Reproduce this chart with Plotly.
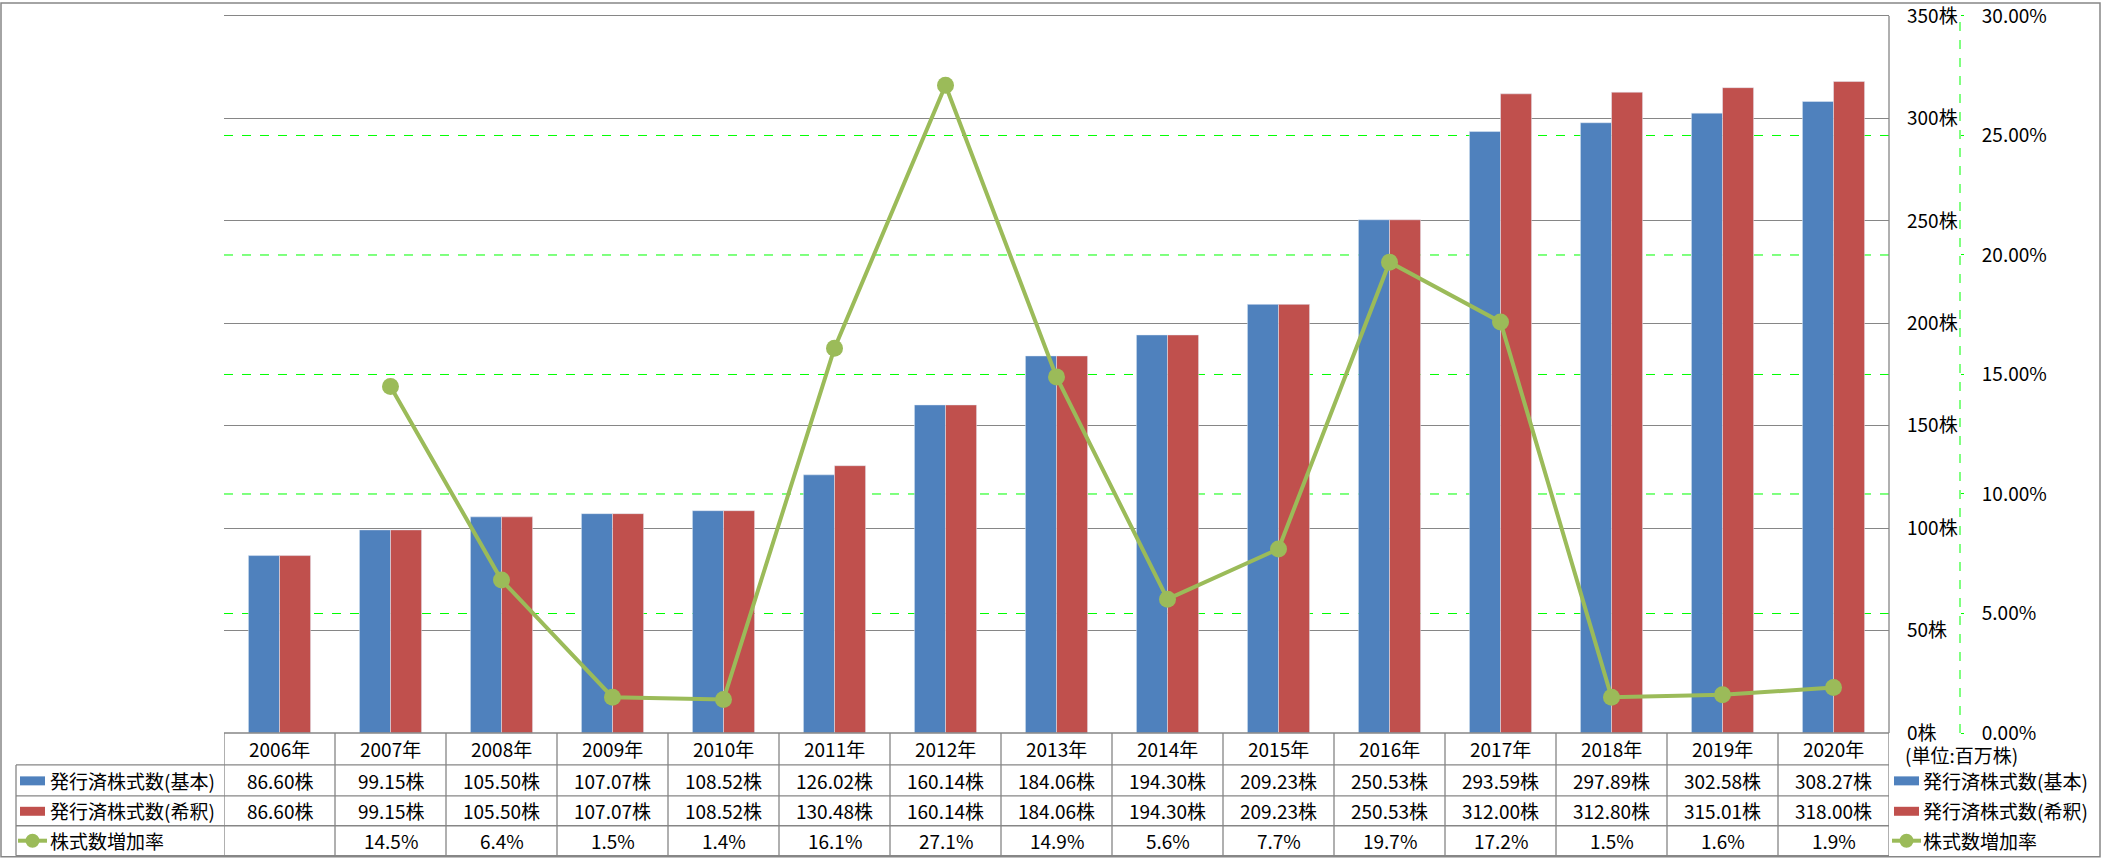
import plotly.graph_objects as go

years = ["2006年", "2007年", "2008年", "2009年", "2010年", "2011年", "2012年", "2013年",
         "2014年", "2015年", "2016年", "2017年", "2018年", "2019年", "2020年"]
basic = [86.60, 99.15, 105.50, 107.07, 108.52, 126.02, 160.14, 184.06, 194.30, 209.23,
         250.53, 293.59, 297.89, 302.58, 308.27]
diluted = [86.60, 99.15, 105.50, 107.07, 108.52, 130.48, 160.14, 184.06, 194.30, 209.23,
           250.53, 312.00, 312.80, 315.01, 318.00]
growth = [None, 14.5, 6.4, 1.5, 1.4, 16.1, 27.1, 14.9, 5.6, 7.7, 19.7, 17.2, 1.5, 1.6, 1.9]
share_ticks = [0, 50, 100, 150, 200, 250, 300, 350]
pct_ticks = [0, 5, 10, 15, 20, 25, 30]

name_basic = "発行済株式数(基本)"
name_dil = "発行済株式数(希釈)"
name_growth = "株式数増加率"
unit_label = "(単位:百万株)"

BLUE = "#4F81BD"
RED = "#C0504D"
GREEN = "#9BBB59"
LIME = "#00FF00"
GRAY = "#868686"
FONT = "Noto Sans CJK JP"
FS = 19

W, H = 2101, 858
L, R, T, B = 224, 1, 8, 125
PW = W - L - R
PH = H - T - B
PLOT_RIGHT = 1889
AX2_X = 1960
TOP_PX = 14          # pixel row of the 350 / 30% gridline
BOTTOM_PX = H - B    # 733
EXT = (BOTTOM_PX - T) / (BOTTOM_PX - TOP_PX)
Y1_MAX = share_ticks[-1] * EXT
Y2_MAX = pct_ticks[-1] * EXT


def xp(px):
    return (px - L) / PW


def yp(py):
    return (H - B - py) / PH


fig = go.Figure()
fig.add_trace(go.Bar(x=years, y=basic, name=name_basic, marker_color=BLUE, showlegend=False))
fig.add_trace(go.Bar(x=years, y=diluted, name=name_dil, marker_color=RED, showlegend=False))
fig.add_trace(go.Scatter(x=years, y=growth, name=name_growth, yaxis="y2", mode="lines+markers",
                         line=dict(color=GREEN, width=4), marker=dict(color=GREEN, size=17),
                         showlegend=False))

shapes = []
annotations = []

for v in pct_ticks[1:-1]:
    shapes.append(dict(type="line", xref="paper", yref="y2", x0=0, x1=xp(PLOT_RIGHT), y0=v, y1=v,
                       line=dict(color=LIME, width=1, dash="dash"), layer="below"))
shapes.append(dict(type="line", xref="paper", yref="y2", x0=xp(AX2_X), x1=xp(AX2_X),
                   y0=pct_ticks[0], y1=pct_ticks[-1],
                   line=dict(color=LIME, width=1, dash="dash")))

line_style = dict(color=GRAY, width=1.3)
shapes.append(dict(type="line", xref="paper", yref="y", x0=xp(PLOT_RIGHT), x1=xp(PLOT_RIGHT),
                   y0=share_ticks[0], y1=share_ticks[-1], line=line_style))

rows = [733, 765, 796, 826, 856]
n = len(years)
shapes.append(dict(type="line", xref="x", yref="paper", x0=-0.5, x1=n - 0.5, y0=yp(rows[0]), y1=yp(rows[0]),
                   line=line_style))
for ry in rows[1:]:
    shapes.append(dict(type="line", xref="paper", yref="paper", x0=xp(16), x1=xp(PLOT_RIGHT),
                       y0=yp(ry), y1=yp(ry), line=line_style))
for i in range(n + 1):
    shapes.append(dict(type="line", xref="x", yref="paper", x0=i - 0.5, x1=i - 0.5,
                       y0=yp(rows[0]), y1=yp(rows[-1]), line=line_style))
shapes.append(dict(type="line", xref="paper", yref="paper", x0=xp(16), x1=xp(16),
                   y0=yp(rows[1]), y1=yp(rows[-1]), line=line_style))
shapes.append(dict(type="rect", xref="paper", yref="paper", x0=xp(1), x1=xp(2100), y0=yp(857), y1=yp(1),
                   line=dict(color=GRAY, width=1.5)))

centers = [(a + b) / 2 for a, b in zip(rows[:-1], rows[1:])]
txt_font = dict(family=FONT, size=FS, color="#000000")


def cell(x, y, text):
    annotations.append(dict(x=x, xref="x", y=yp(y), yref="paper", text=text, showarrow=False,
                            xanchor="center", yanchor="middle", font=txt_font))


for i, yr in enumerate(years):
    cell(yr, centers[0], yr)
    cell(yr, centers[1], f"{basic[i]:.2f}株")
    cell(yr, centers[2], f"{diluted[i]:.2f}株")
    if growth[i] is not None:
        cell(yr, centers[3], f"{growth[i]:.1f}%")


def legend_block(x_sym, x_txt, ys):
    for col, yc in ((BLUE, ys[0]), (RED, ys[1])):
        shapes.append(dict(type="rect", xref="paper", yref="paper", x0=xp(x_sym), x1=xp(x_sym + 25),
                           y0=yp(yc + 5), y1=yp(yc - 4), fillcolor=col, line=dict(width=0)))
    yc = ys[2]
    shapes.append(dict(type="line", xref="paper", yref="paper", x0=xp(x_sym - 2), x1=xp(x_sym + 27),
                       y0=yp(yc), y1=yp(yc), line=dict(color=GREEN, width=4)))
    cx = x_sym + 12.5
    shapes.append(dict(type="circle", xref="paper", yref="paper", x0=xp(cx - 7), x1=xp(cx + 7),
                       y0=yp(yc + 7), y1=yp(yc - 7), fillcolor=GREEN, line=dict(width=0)))
    for t, yc in zip([name_basic, name_dil, name_growth], ys):
        annotations.append(dict(x=xp(x_txt), xref="paper", y=yp(yc), yref="paper", text=t,
                                showarrow=False, xanchor="left", yanchor="middle", font=txt_font))


legend_block(20, 48, centers[1:])
legend_block(1894, 1921, centers[1:])
annotations.append(dict(x=xp(1903), xref="paper", y=yp(755), yref="paper", text=unit_label,
                        showarrow=False, xanchor="left", yanchor="middle", font=txt_font))

fig.update_layout(
    width=W, height=H,
    margin=dict(l=L, r=R, t=T, b=B),
    paper_bgcolor="white", plot_bgcolor="white",
    barmode="group", bargap=0.44, bargroupgap=0,
    font=dict(family=FONT, size=FS, color="#000000"),
    xaxis=dict(domain=[0, xp(PLOT_RIGHT)], range=[-0.5, n - 0.5], showticklabels=False,
               showgrid=False, showline=False, zeroline=False, fixedrange=True),
    yaxis=dict(range=[0, Y1_MAX], tickmode="array", tickvals=share_ticks,
               ticktext=[f"{v}株" for v in share_ticks], side="right", anchor="x",
               showline=False, gridcolor=GRAY, gridwidth=1.3,
               zeroline=False, ticks="", ticklabelstandoff=17, ticklabeloverflow="allow",
               tickfont=dict(family=FONT, size=FS, color="#000000")),
    yaxis2=dict(range=[0, Y2_MAX], tickmode="array", tickvals=pct_ticks,
                ticktext=[f"{v:.2f}%" for v in pct_ticks], overlaying="y", side="right", anchor="free",
                position=xp(AX2_X), showgrid=False, ticklabeloverflow="allow",
                showline=False, zeroline=False, ticks="outside", ticklen=3, tickcolor=LIME,
                ticklabelstandoff=14, tickfont=dict(family=FONT, size=FS, color="#000000")),
    shapes=shapes,
    annotations=annotations,
    showlegend=False,
)

fig.write_html("out.html")
